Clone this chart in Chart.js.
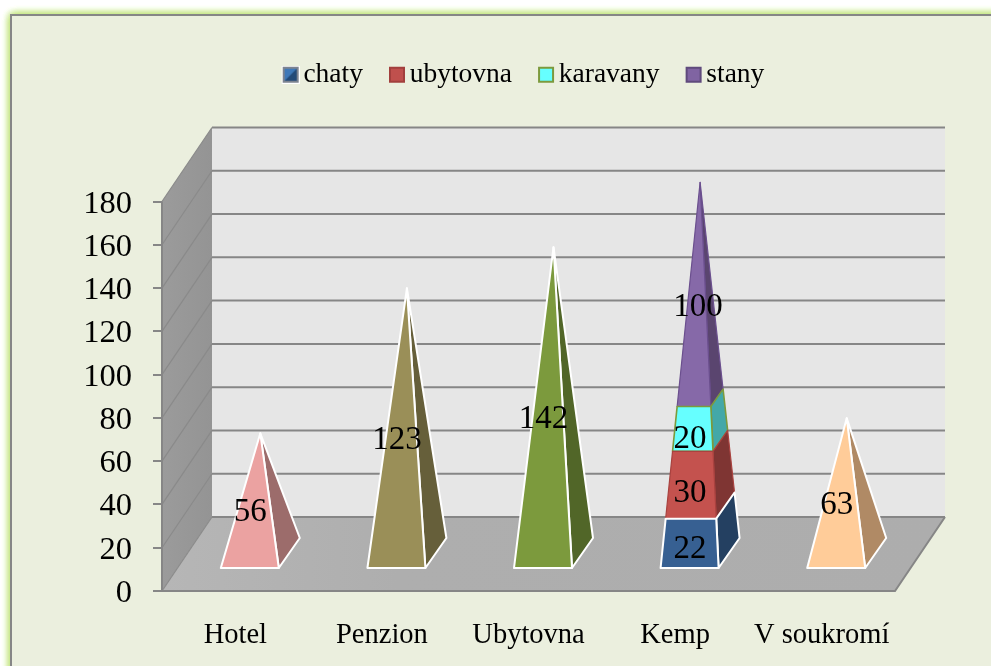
<!DOCTYPE html>
<html><head><meta charset="utf-8">
<style>html,body{margin:0;padding:0;background:#fff}canvas{display:block}</style>
<script src="https://cdn.jsdelivr.net/npm/chart.js@4"></script>
</head><body><canvas id="c" width="991" height="666"></canvas>
<script>
const categories = ['Hotel','Penzion','Ubytovna','Kemp','V soukromí'];
const chaty    = [56,123,142,22,63];
const ubytovna = [0,0,0,30,0];
const karavany = [0,0,0,20,0];
const stany    = [0,0,0,100,0];
const chatyFront = ['#EBA2A1','#9A8F58','#7C9A3D','#376092','#FFCC99'];
const chatySide  = ['#9C6C6B','#665F3A','#516628','#244061','#B08A65'];

const FONT = '"Liberation Serif"';
const DX = 50, DY = 74;            // depth of the 3D box
const BASE_HX = 29, BASE_DX = 10.5, BASE_DY = 15; // pyramid base

class PyramidController extends Chart.BarController {
  draw() {
    const chart = this.chart, ctx = chart.ctx, ds = this.getDataset();
    const yS = chart.scales.y, idx = this.index;
    const y0 = yS.getPixelForValue(0);
    this._cachedMeta.data.forEach((el, i) => {
      const v = ds.data[i];
      if (!v) return;
      let below = 0, total = 0;
      chart.data.datasets.forEach((d, k) => { total += d.data[i]; if (k < idx) below += d.data[i]; });
      const cx = el.x + DX / 2, cy = y0 - DY / 2 - 1;
      const apex = { x: cx, y: yS.getPixelForValue(total) - DY / 2 + 0.5 };
      const corner = { fl: { x: cx - BASE_HX - BASE_DX, y: cy + BASE_DY },
                       fr: { x: cx + BASE_HX - BASE_DX, y: cy + BASE_DY },
                       br: { x: cx + BASE_HX + BASE_DX, y: cy - BASE_DY } };
      const at = (c, t) => ({ x: c.x + (apex.x - c.x) * t, y: c.y + (apex.y - c.y) * t });
      const t0 = below / total, t1 = (below + v) / total;
      const poly = (pts, fill) => {
        ctx.beginPath();
        pts.forEach((p, n) => n ? ctx.lineTo(p.x, p.y) : ctx.moveTo(p.x, p.y));
        ctx.closePath();
        ctx.fillStyle = fill; ctx.fill();
        ctx.strokeStyle = ds.borderColor; ctx.lineWidth = ds.borderWidth; ctx.lineJoin = 'round';
        ctx.stroke();
      };
      const front = Array.isArray(ds.backgroundColor) ? ds.backgroundColor[i] : ds.backgroundColor;
      const side = Array.isArray(ds.sideColor) ? ds.sideColor[i] : ds.sideColor;
      poly([at(corner.fr,t0), at(corner.br,t0), at(corner.br,t1), at(corner.fr,t1)], side);
      poly([at(corner.fl,t0), at(corner.fr,t0), at(corner.fr,t1), at(corner.fl,t1)], front);
    });
  }
}
PyramidController.id = 'pyramid';
PyramidController.defaults = Chart.BarController.defaults;
PyramidController.overrides = Chart.BarController.overrides;
Chart.register(PyramidController);

function icon(fill, dark, edge, halo, split) {
  const c = document.createElement('canvas'); c.width = 22; c.height = 18;
  const g = c.getContext('2d');
  g.translate(4, 0);
  if (halo) { g.fillStyle = '#fff'; g.fillRect(0, 0, 18, 18); }
  g.fillStyle = edge; g.fillRect(1, 1, 16, 16);
  g.fillStyle = fill; g.fillRect(3, 3, 12, 12);
  if (split) {
    g.fillStyle = dark; g.beginPath(); g.moveTo(3, 15); g.lineTo(15, 15); g.lineTo(15, 3); g.closePath(); g.fill();
  }
  return c;
}
const legendIcons = [
  icon('#3F78B8', '#234A78', '#7C8390', true, true),
  icon('#C0504D', '#C0504D', '#A23F3D', false, false),
  icon('#66FFFF', '#66FFFF', '#7C9A3D', false, false),
  icon('#8064A2', '#8064A2', '#5F4A7C', false, false)
];

const boxPlugin = {
  id: 'box3d',
  afterLayout(chart) {
    chart.legend.left -= 2.5; chart.legend.right -= 2.5;
  },
  beforeDraw(chart) {
    const ctx = chart.ctx;
    ctx.save();
    ctx.fillStyle = '#fff'; ctx.fillRect(0, 0, 991, 666);
    ctx.shadowColor = '#C4E680'; ctx.shadowBlur = 8;
    ctx.fillStyle = '#EBEFDE';
    for (let n = 0; n < 4; n++) ctx.fillRect(11, 15, 1100, 900);
    ctx.shadowBlur = 0;
    ctx.strokeStyle = '#868686'; ctx.lineWidth = 2; ctx.strokeRect(11, 15, 1100, 900);
    ctx.restore();
  },
  beforeDatasetsDraw(chart) {
    const ctx = chart.ctx, a = chart.chartArea, yS = chart.scales.y;
    const L = a.left, R = a.right, B = a.bottom, T = a.top;
    const poly = (pts, fill) => { ctx.beginPath(); pts.forEach((p, n) => n ? ctx.lineTo(p[0], p[1]) : ctx.moveTo(p[0], p[1])); ctx.closePath(); ctx.fillStyle = fill; ctx.fill(); };
    ctx.save();
    poly([[L + DX, T - DY], [R + DX, T - DY], [R + DX, B - DY], [L + DX, B - DY]], '#E6E6E6');
    const gw = ctx.createLinearGradient(L, 0, L + DX, 0);
    gw.addColorStop(0, '#9B9B9B'); gw.addColorStop(1, '#949494');
    poly([[L, B], [L, T], [L + DX, T - DY], [L + DX, B - DY]], gw);
    const gf = ctx.createLinearGradient(L, 0, R + DX, 0);
    gf.addColorStop(0, '#B6B6B6'); gf.addColorStop(.3, '#AEAEAE'); gf.addColorStop(1, '#ADADAD');
    poly([[L, B], [R, B], [R + DX, B - DY], [L + DX, B - DY]], gf);
    ctx.lineWidth = 2; ctx.strokeStyle = '#868686';
    yS.ticks.forEach(t => {
      const y = yS.getPixelForValue(t.value);
      ctx.beginPath(); ctx.moveTo(L + DX, y - DY); ctx.lineTo(R + DX, y - DY); ctx.stroke();
    });
    ctx.lineWidth = 1.2; ctx.strokeStyle = '#8A8A8A';
    yS.ticks.forEach(t => {
      const y = yS.getPixelForValue(t.value);
      ctx.beginPath(); ctx.moveTo(L, y); ctx.lineTo(L + DX, y - DY); ctx.stroke();
    });
    ctx.lineWidth = 2; ctx.strokeStyle = '#868686';
    ctx.beginPath(); ctx.moveTo(L, T); ctx.lineTo(L, B); ctx.lineTo(R, B); ctx.lineTo(R + DX, B - DY); ctx.stroke();
    ctx.restore();
  },
  afterDatasetsDraw(chart) {
    const ctx = chart.ctx, yS = chart.scales.y;
    ctx.save();
    ctx.font = '33px ' + FONT; ctx.fillStyle = '#000'; ctx.textAlign = 'center'; ctx.textBaseline = 'middle';
    chart.data.datasets.forEach((ds, k) => {
      const meta = chart.getDatasetMeta(k);
      ds.data.forEach((v, i) => {
        if (!v) return;
        let below = 0;
        for (let n = 0; n < k; n++) below += chart.data.datasets[n].data[i];
        const top = k === 3;
        ctx.fillText(String(v), meta.data[i].x + (top ? 23 : 15), yS.getPixelForValue(below + v / 2) - (top ? 20 : 18));
      });
    });
    ctx.restore();
  }
};

new Chart(document.getElementById('c'), {
  type: 'pyramid',
  data: {
    labels: categories,
    datasets: [
      { label: 'chaty', data: chaty, backgroundColor: chatyFront, sideColor: chatySide, borderColor: '#FFFFFF', borderWidth: 2, clip: false },
      { label: 'ubytovna', data: ubytovna, backgroundColor: '#C4524E', sideColor: '#7F3533', borderColor: '#A9423F', borderWidth: 1.2, clip: false },
      { label: 'karavany', data: karavany, backgroundColor: '#66FFFF', sideColor: '#43A8A8', borderColor: '#7C9A3D', borderWidth: 1.6, clip: false },
      { label: 'stany', data: stany, backgroundColor: '#8669A8', sideColor: '#5A456F', borderColor: '#6B4F8E', borderWidth: 1.2, clip: false }
    ]
  },
  options: {
    responsive: false,
    animation: false,
    devicePixelRatio: 1,
    layout: { padding: { left: 72, right: 96, top: 30, bottom: 0 } },
    plugins: {
      tooltip: { enabled: false },
      title: { display: true, text: '', weight: 500, padding: { top: 0, bottom: 91 }, font: { size: 10 } },
      legend: {
        position: 'top',
        fullSize: false,
        labels: {
          usePointStyle: true, boxWidth: 2, padding: 31,
          color: '#000', font: { family: FONT, size: 27.5 },
          generateLabels: c => c.data.datasets.map((d, i) => ({ text: d.label, pointStyle: legendIcons[i], datasetIndex: i, fontColor: '#000', lineWidth: 0, strokeStyle: 'transparent', fillStyle: 'transparent' }))
        }
      }
    },
    scales: {
      x: {
        stacked: true,
        afterFit(s) { s.height = 75; },
        grid: { display: false, drawTicks: false },
        border: { display: false },
        ticks: { color: '#000', font: { family: FONT, size: 28.5 }, padding: 27.5, maxRotation: 0, autoSkip: false }
      },
      y: {
        stacked: true, min: 0, max: 180,
        afterFit(s) { s.width = 90; },
        grid: { drawOnChartArea: false, color: '#868686', lineWidth: 2, tickLength: 9 },
        border: { display: false },
        ticks: { stepSize: 20, color: '#000', font: { family: FONT, size: 32.5 }, padding: 21, labelOffset: 2.5, autoSkip: false }
      }
    }
  },
  plugins: [boxPlugin]
});
</script></body></html>
